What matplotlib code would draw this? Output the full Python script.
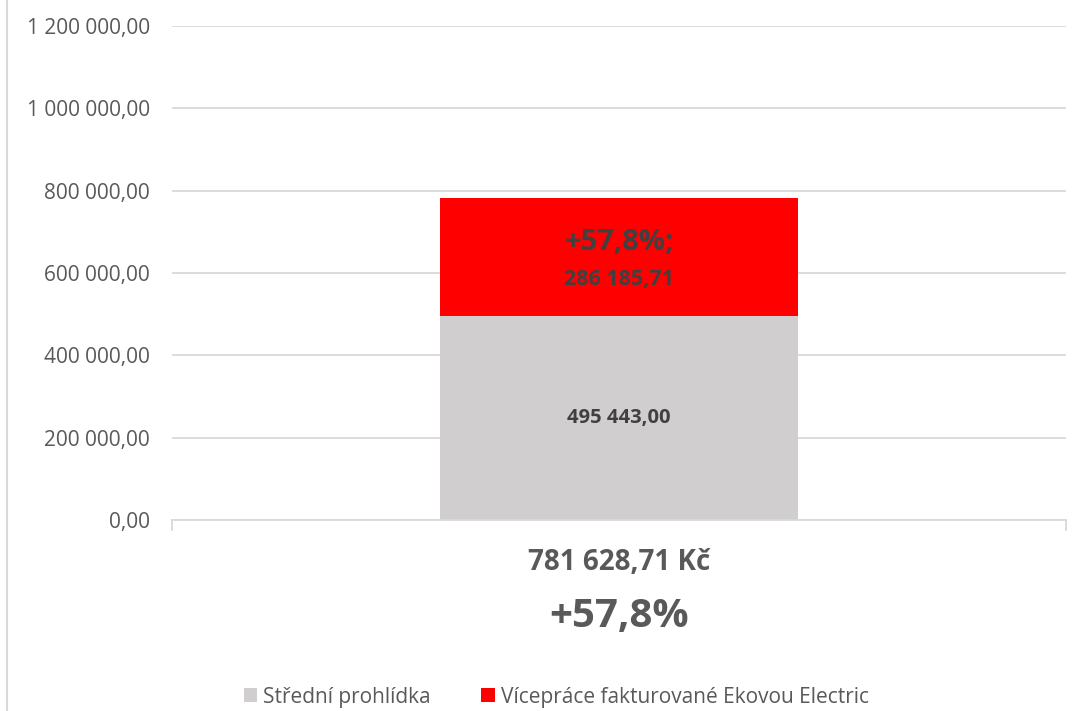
import matplotlib
matplotlib.use("Agg")
import matplotlib.pyplot as plt
from matplotlib.lines import Line2D
from matplotlib.patches import Patch

plt.rcParams['font.family'] = ['Open Sans', 'DejaVu Sans']

categories = ["781 628,71 Kč"]
series_names = ["Střední prohlídka", "Vícepráce fakturované Ekovou Electric"]
base_values = [495443.00]
extra_values = [286185.71]
extra_pct = ["+57,8%;"]
extra_labels = ["286 185,71"]
base_labels = ["495 443,00"]
sub_label = "+57,8%"
yticks = [0, 200000, 400000, 600000, 800000, 1000000, 1200000]
ytick_labels = ["0,00", "200 000,00", "400 000,00", "600 000,00", "800 000,00", "1 000 000,00", "1 200 000,00"]

c_text = "#595959"
c_lbl = "#404040"
c_grid = "#d9d9d9"
c_gray = "#d0cece"
c_red = "#ff0000"

fig = plt.figure(figsize=(10.8, 7.11), dpi=100)
ax = fig.add_axes([172/1080, 1-520/711, (1066-172)/1080, (520-26)/711])

x = list(range(len(categories)))
ax.bar(x, base_values, width=0.4, color=c_gray, zorder=2)
ax.bar(x, extra_values, bottom=base_values, width=0.4, color=c_red, zorder=2)

for i in x:
    ax.text(i, base_values[i]/2, base_labels[i], ha='center', va='center',
            fontsize=14.5, fontweight='bold', color=c_lbl, zorder=3)
    top = base_values[i] + extra_values[i]
    ax.text(i, top - 0.38*extra_values[i], extra_pct[i], ha='center', va='center',
            fontsize=21, fontweight='bold', color=c_lbl, zorder=3)
    ax.text(i, top - 0.69*extra_values[i], extra_labels[i], ha='center', va='center',
            fontsize=15.5, fontweight='bold', color=c_lbl, zorder=3)

ax.set_xlim(-0.5, len(categories)-0.5)
ax.set_ylim(0, 1200000)
ax.set_yticks(yticks)
ax.set_yticklabels(ytick_labels)
ax.tick_params(axis='y', length=0, pad=16, labelsize=15, labelcolor=c_text)
ax.set_xticks([])
ax.grid(axis='y', color=c_grid, linewidth=1.3, zorder=0)
ax.set_axisbelow(True)
for s in ['top', 'right', 'left']:
    ax.spines[s].set_visible(False)
ax.spines['bottom'].set_color(c_grid)
ax.spines['bottom'].set_linewidth(1.3)

for xb in [-0.5, len(categories)-0.5]:
    ax.plot([xb, xb], [0, -0.02], transform=ax.get_xaxis_transform(), color=c_grid,
            linewidth=1.3, clip_on=False)

for i, cat in enumerate(categories):
    ax.text(i, -0.087, cat, transform=ax.get_xaxis_transform(), ha='center', va='center',
            fontsize=20, fontweight='bold', color=c_text)
    ax.text(i, -0.196, sub_label, transform=ax.get_xaxis_transform(), ha='center', va='center',
            fontsize=29, fontweight='bold', color=c_text)

handles = [Patch(facecolor=c_gray, edgecolor='none'), Patch(facecolor=c_red, edgecolor='none')]
leg = fig.legend(handles, series_names, loc='center', bbox_to_anchor=(0.515, 1-697/711),
                 ncol=2, frameon=False, fontsize=15, handlelength=0.65, handleheight=0.65,
                 handletextpad=0.3, columnspacing=2.4, borderpad=0)
for t in leg.get_texts():
    t.set_color(c_text)

fig.add_artist(Line2D([7/1080, 7/1080], [0, 1], color=c_grid, linewidth=1.5, transform=fig.transFigure))

fig.savefig("out.png", dpi=100)
